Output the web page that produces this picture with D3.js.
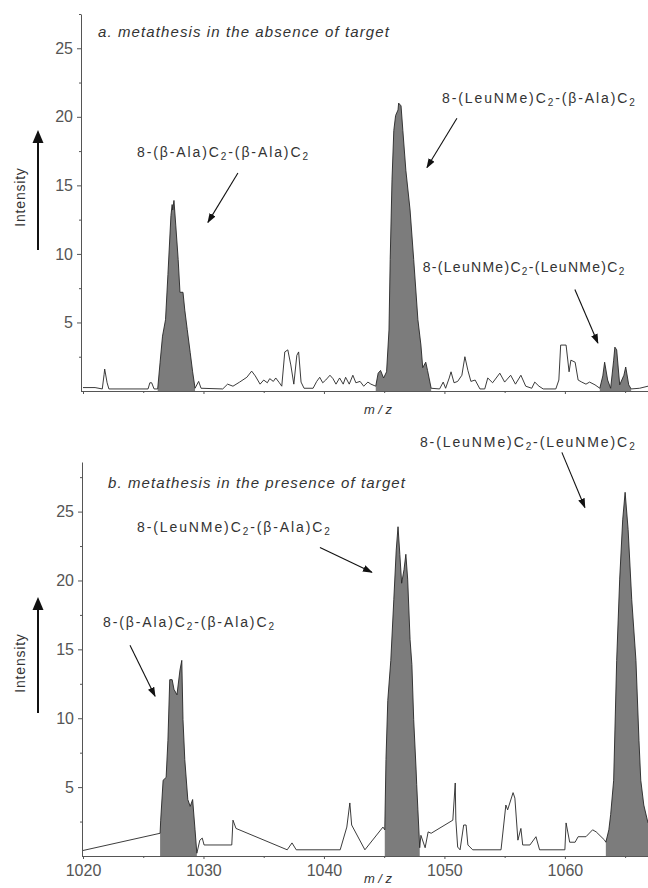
<!DOCTYPE html>
<html>
<head>
<meta charset="utf-8">
<script src="https://cdn.jsdelivr.net/npm/d3@7"></script>
<style>
  body { margin: 0; background: #fff; }
  svg { display: block; font-family: "Liberation Sans", Arial, sans-serif; }
</style>
</head>
<body>
<svg id="chart" width="648" height="888"></svg>
<script>
// panel a: metathesis without target (m/z, intensity)
const mzA = [1020.0, 1021.0, 1021.6, 1021.75, 1021.8, 1022.0, 1022.15, 1025.4, 1025.55, 1025.7, 1025.9,
  1026.2, 1026.4, 1026.6, 1026.85, 1027.05, 1027.3, 1027.4, 1027.45, 1027.55, 1027.7, 1027.9, 1028.05,
  1028.3, 1028.45, 1028.65, 1028.9, 1029.1, 1029.3, 1029.6, 1029.8, 1031.6, 1032.0, 1032.45, 1033.0,
  1033.6, 1034.0, 1034.3, 1034.7, 1035.0, 1035.3, 1035.5, 1035.8, 1036.0, 1036.3, 1036.5, 1036.75,
  1037.0, 1037.25, 1037.5, 1037.75, 1037.9, 1038.1, 1038.35, 1039.1, 1039.4, 1039.65, 1039.9, 1040.15,
  1040.5, 1040.75, 1041.0, 1041.3, 1041.6, 1041.8, 1042.1, 1042.4, 1042.65, 1043.0, 1043.3, 1043.65,
  1043.9, 1044.3, 1044.5, 1044.7, 1044.95, 1045.2, 1045.4, 1045.5, 1045.65, 1045.8, 1045.95, 1046.15,
  1046.2, 1046.4, 1046.55, 1046.8, 1047.15, 1047.45, 1047.8, 1048.05, 1048.2, 1048.45, 1048.6, 1048.9,
  1049.6, 1049.9, 1050.1, 1050.4, 1050.55, 1050.8, 1051.1, 1051.45, 1051.7, 1051.95, 1052.2, 1052.55,
  1052.95, 1053.35, 1053.6, 1054.0, 1054.6, 1055.0, 1055.5, 1055.9, 1056.35, 1056.75, 1057.25, 1057.5,
  1057.85, 1058.2, 1059.25, 1059.5, 1059.65, 1060.1, 1060.35, 1060.5, 1060.85, 1061.1, 1061.4, 1061.75,
  1062.05, 1062.5, 1062.9, 1063.15, 1063.3, 1063.55, 1063.8, 1064.05, 1064.15, 1064.3, 1064.55, 1064.9,
  1065.05, 1065.3, 1065.5, 1066.2, 1066.9];
const intA = [0.25, 0.25, 0.15, 1.2, 1.6, 0.6, 0.15, 0.15, 0.6, 0.6, 0.15,
  0.15, 2.1, 4.0, 5.2, 8.5, 12.8, 13.6, 13.2, 13.9, 12.1, 9.6, 7.2,
  7.2, 5.9, 4.5, 2.8, 1.4, 0.2, 0.7, 0.2, 0.15, 0.5, 0.35, 0.65,
  1.0, 1.45, 1.1, 0.5, 0.8, 0.6, 0.9, 0.7, 0.95, 0.6, 0.35, 2.85,
  3.0, 1.9, 0.5, 2.6, 2.85, 0.65, 0.2, 0.2, 0.7, 1.0, 0.6, 0.8,
  1.15, 0.9, 0.5, 0.95, 0.5, 1.0, 0.5, 1.15, 0.6, 0.7, 0.35, 0.65,
  0.5, 0.35, 1.3, 1.5, 0.95, 1.4, 4.45, 9.6, 15.4, 19.0, 20.1, 20.5,
  21.0, 20.8, 19.0, 16.1, 13.2, 9.6, 5.2, 3.35, 1.7, 2.1, 1.5, 0.2,
  0.15, 0.65, 0.2, 0.95, 1.4, 0.6, 0.7, 1.15, 2.5, 1.5, 0.7, 0.8,
  0.15, 0.15, 0.95, 0.6, 1.3, 0.65, 1.15, 0.5, 1.15, 0.35, 0.2, 0.65,
  0.35, 0.15, 0.15, 0.8, 3.35, 3.35, 1.4, 2.25, 2.1, 0.8, 0.65, 0.5,
  0.65, 0.45, 0.2, 1.1, 2.1, 0.8, 0.2, 2.25, 3.2, 3.0, 0.45, 1.15,
  1.75, 0.45, 0.15, 0.2, 0.35];
const shadeA = [[1026.2, 1029.3], [1044.3, 1048.9], [1062.9, 1065.5]];

// panel b: metathesis with target
const mzB = [1020.0, 1026.4, 1026.45, 1026.65, 1026.9, 1027.05, 1027.2, 1027.4, 1027.55, 1027.8, 1028.05,
  1028.2, 1028.3, 1028.45, 1028.7, 1028.9, 1029.1, 1029.3, 1029.45, 1029.7, 1029.9, 1030.05, 1032.35,
  1032.45, 1032.7, 1036.95, 1037.35, 1037.7, 1041.35, 1041.9, 1042.15, 1042.3, 1043.4, 1044.9, 1045.05,
  1045.15, 1045.3, 1045.55, 1045.8, 1046.0, 1046.15, 1046.3, 1046.45, 1046.65, 1046.8, 1046.95, 1047.15,
  1047.3, 1047.45, 1047.65, 1047.7, 1047.8, 1047.95, 1048.05, 1048.4, 1048.65, 1048.9, 1050.7, 1050.9,
  1050.95, 1051.1, 1051.3, 1051.6, 1051.8, 1051.95, 1052.35, 1054.7, 1055.1, 1055.25, 1055.7, 1055.85,
  1056.1, 1056.35, 1056.5, 1057.1, 1057.6, 1057.9, 1060.0, 1060.1, 1060.4, 1060.85, 1061.1, 1061.75,
  1062.3, 1062.6, 1063.3, 1063.4, 1063.65, 1063.8, 1064.05, 1064.3, 1064.55, 1064.8, 1065.0, 1065.25,
  1065.55, 1065.9, 1066.15, 1066.3, 1066.55, 1066.9];
const intB = [0.4, 1.65, 2.6, 5.5, 5.7, 8.4, 12.8, 12.8, 12.1, 11.7, 13.5,
  14.2, 9.9, 7.0, 4.1, 3.6, 4.1, 1.9, 0.2, 1.15, 1.3, 0.8, 0.8,
  2.6, 2.0, 0.45, 0.95, 0.45, 0.45, 2.1, 3.85, 2.25, 0.45, 2.1, 1.9,
  7.0, 11.3, 14.2, 18.6, 22.2, 23.9, 21.9, 19.8, 20.8, 21.9, 20.1, 15.7,
  13.9, 9.9, 6.25, 5.2, 3.35, 0.6, 1.5, 0.6, 1.75, 1.65, 2.6, 5.3,
  2.6, 0.65, 0.45, 2.25, 2.25, 0.8, 0.45, 0.45, 3.7, 3.35, 4.6, 4.2,
  1.15, 2.0, 0.8, 0.8, 1.4, 0.45, 0.45, 2.4, 1.0, 1.0, 1.4, 1.4,
  1.9, 1.75, 1.15, 1.0, 1.9, 3.0, 5.5, 14.2, 20.1, 24.4, 26.4, 23.7,
  18.6, 14.2, 8.4, 5.5, 3.7, 2.4];
const shadeB = [[1026.4, 1029.45], [1045.05, 1047.95], [1063.4, 1066.9]];

const yTicks = [5, 10, 15, 20, 25];
const yMinor = [2.5, 7.5, 12.5, 17.5, 22.5, 27.5];
const xTicks = [1020, 1030, 1040, 1050, 1060];
const xMinor = [1025, 1035, 1045, 1055, 1065];

// label pieces: plain, subscript, plain, subscript
const compounds = [
  ["8-(\u03b2-Ala)C", "2", "-(\u03b2-Ala)C", "2"],
  ["8-(LeuNMe)C", "2", "-(\u03b2-Ala)C", "2"],
  ["8-(LeuNMe)C", "2", "-(LeuNMe)C", "2"]
];
const titles = ["a. metathesis in the absence of target", "b. metathesis in the presence of target"];

const svg = d3.select('#chart');
const ink = '#333';

const defs = svg.append('defs');
defs.append('marker')
  .attr('id', 'head')
  .attr('viewBox', '0 0 10 10')
  .attr('refX', 9).attr('refY', 5)
  .attr('markerWidth', 9).attr('markerHeight', 9)
  .attr('orient', 'auto')
  .append('path')
  .attr('d', 'M0,1.5L10,5L0,8.5Z')
  .attr('fill', '#111');

const x = d3.scaleLinear().domain([1020, 1066.9]).range([83, 648]);

const panels = [
  {
    mz: mzA, val: intA, shade: shadeA, title: titles[0],
    y: d3.scaleLinear().domain([0, 27.5]).range([391, 14]),
    axisX: 81, titleX: 98, titleY: 37, mzY: 414, xLabels: false,
    intY: 197, arrowTop: 130, arrowBot: 250,
    notes: [
      {label: compounds[0], at: [1024.48, 17.1], from: [1032.86, 15.9], to: [1030.37, 12.3], ls: 1.9},
      {label: compounds[1], at: [1049.8, 21.0], from: [1051.04, 19.9], to: [1048.55, 16.3], ls: 1.9},
      {label: compounds[2], at: [1048.2, 8.7], from: [1060.83, 7.4], to: [1062.74, 3.5], ls: 1.3}
    ]
  },
  {
    mz: mzB, val: intB, shade: shadeB, title: titles[1],
    y: d3.scaleLinear().domain([0, 28.6]).range([856, 462]),
    axisX: 82, titleX: 108, titleY: 488, mzY: 883, xLabels: true,
    intY: 663, arrowTop: 597, arrowBot: 713,
    notes: [
      {label: compounds[2], at: [1047.97, 29.7], from: [1059.75, 29.3], to: [1061.66, 25.3], ls: 1.9},
      {label: compounds[1], at: [1024.48, 23.5], from: [1039.67, 22.4], to: [1043.98, 20.6], ls: 1.9},
      {label: compounds[0], at: [1021.66, 16.6], from: [1023.9, 15.3], to: [1025.98, 11.6], ls: 1.9}
    ]
  }
];

function styleAxis(g, size) {
  g.selectAll('path, line').attr('stroke', '#555').attr('stroke-width', 1);
  g.selectAll('text').attr('fill', '#555').style('font-size', size + 'px');
}

panels.forEach(function(p, k) {
  const pts = p.mz.map((m, i) => [m, p.val[i]]);
  const y = p.y;
  const g = svg.append('g');

  const clipId = 'clip' + k;
  defs.append('clipPath').attr('id', clipId)
    .append('rect')
    .attr('x', x(1020)).attr('y', y.range()[1])
    .attr('width', x.range()[1] - x(1020))
    .attr('height', y.range()[0] - y.range()[1]);

  const plot = g.append('g').attr('clip-path', `url(#${clipId})`);

  const area = d3.area()
    .x(d => x(d[0]))
    .y0(y(0))
    .y1(d => y(d[1]));

  p.shade.forEach(function(r) {
    plot.append('path')
      .datum(pts.filter(d => d[0] >= r[0] && d[0] <= r[1]))
      .attr('fill', '#7c7c7c')
      .attr('d', area);
  });

  const line = d3.line()
    .x(d => x(d[0]))
    .y(d => y(d[1]));

  plot.append('path')
    .datum(pts)
    .attr('fill', 'none')
    .attr('stroke', '#262626')
    .attr('stroke-width', 0.9)
    .attr('stroke-linejoin', 'round')
    .attr('d', line);

  // y axis
  const yAxis = g.append('g')
    .attr('transform', `translate(${p.axisX},0)`)
    .call(d3.axisLeft(y).tickValues(yTicks).tickSize(4).tickSizeOuter(0).tickPadding(4));
  styleAxis(yAxis, 16);
  const yMin = g.append('g')
    .attr('transform', `translate(${p.axisX},0)`)
    .call(d3.axisLeft(y).tickValues(yMinor).tickSize(2).tickFormat(''));
  yMin.select('.domain').remove();
  styleAxis(yMin, 16);

  // x axis
  const xAxis = g.append('g')
    .attr('transform', `translate(0,${y(0)})`)
    .call(d3.axisBottom(x).tickValues(xTicks).tickSize(3).tickSizeOuter(0).tickPadding(6)
      .tickFormat(p.xLabels ? d3.format('d') : ''));
  xAxis.select('.domain').attr('d', `M${p.axisX},0.5H${x.range()[1]}`);
  styleAxis(xAxis, 16);
  const xMin = g.append('g')
    .attr('transform', `translate(0,${y(0)})`)
    .call(d3.axisBottom(x).tickValues(xMinor).tickSize(2).tickFormat(''));
  xMin.select('.domain').remove();
  styleAxis(xMin, 16);

  // m / z label
  g.append('text')
    .attr('x', 378).attr('y', p.mzY)
    .attr('text-anchor', 'middle')
    .attr('fill', ink)
    .style('font-size', '13px')
    .style('font-style', 'italic')
    .text('m / z');

  // Intensity label with arrow
  g.append('text')
    .attr('transform', `translate(25,${p.intY}) rotate(-90)`)
    .attr('text-anchor', 'middle')
    .attr('fill', ink)
    .style('font-size', '14px')
    .style('letter-spacing', '0.8px')
    .text('Intensity');
  g.append('line')
    .attr('x1', 38).attr('x2', 38)
    .attr('y1', p.arrowBot).attr('y2', p.arrowTop + 10)
    .attr('stroke', '#111').attr('stroke-width', 2);
  g.append('path')
    .attr('d', `M38,${p.arrowTop}L32.5,${p.arrowTop + 13}L43.5,${p.arrowTop + 13}Z`)
    .attr('fill', '#111');

  // panel title
  g.append('text')
    .attr('x', p.titleX).attr('y', p.titleY)
    .attr('fill', ink)
    .style('font-size', '15px')
    .style('font-style', 'italic')
    .style('letter-spacing', '1.1px')
    .text(p.title);

  // compound annotations
  p.notes.forEach(function(n) {
    const t = g.append('text')
      .attr('x', x(n.at[0])).attr('y', y(n.at[1]))
      .attr('fill', ink)
      .style('font-size', '14px')
      .style('letter-spacing', n.ls + 'px');
    n.label.forEach(function(s, i) {
      const sp = t.append('tspan').text(s);
      if (i % 2 === 1) {
        sp.attr('dy', 3).style('font-size', '10px');
      } else if (i > 0) {
        sp.attr('dy', -3);
      }
    });
    g.append('line')
      .attr('x1', x(n.from[0])).attr('y1', y(n.from[1]))
      .attr('x2', x(n.to[0])).attr('y2', y(n.to[1]))
      .attr('stroke', '#111')
      .attr('stroke-width', 1.1)
      .attr('marker-end', 'url(#head)');
  });
});
</script>
</body>
</html>
